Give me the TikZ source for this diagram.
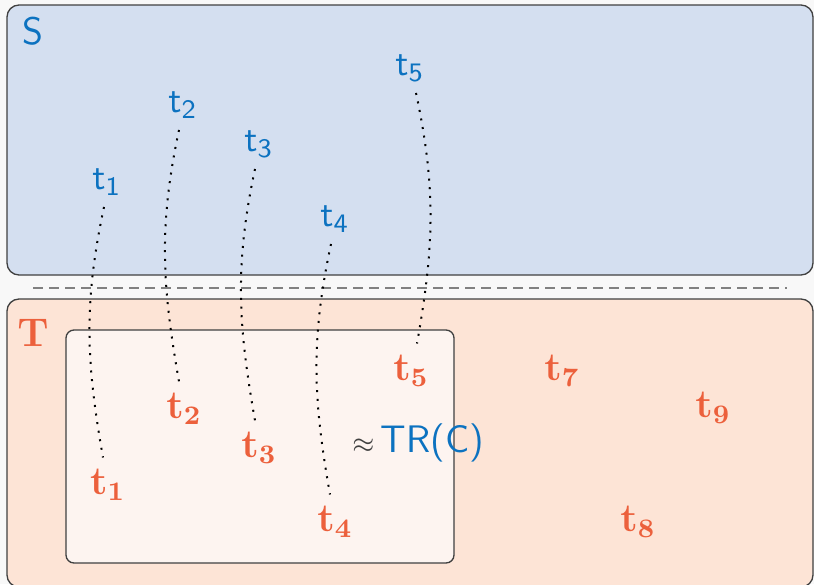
\documentclass[tikz,border=0pt]{standalone}
\usepackage{xcolor}
\definecolor{sblue}{RGB}{12,114,192}
\definecolor{torange}{RGB}{236,96,60}
\definecolor{sfill}{RGB}{212,223,240}
\definecolor{tfill}{RGB}{253,228,214}
\definecolor{cfill}{RGB}{253,244,240}
\definecolor{pagebg}{RGB}{248,248,248}
\tikzset{
	areabox/.style={shape=rectangle, draw=black!75, line width=0.4pt, rounded corners=3.6pt, inner sep=0pt},
	slabel/.style={text=sblue, font=\fontsize{11}{13}\selectfont\sffamily},
	tlabel/.style={text=torange, font=\fontsize{12}{14}\selectfont},
	link/.style={dotted, line width=0.6pt, looseness=1},
}
\begin{document}
\begin{tikzpicture}[x=0.3pt, y=-0.3pt]
	% Canvas:
	\clip (0,0) rectangle (814,584);
	\fill[pagebg] (0,0) rectangle (814,584);
	% Areas:
	\node[areabox, fill=sfill, minimum width=241.8pt, minimum height=81pt] (S) at (410,140){};
	\node[areabox, fill=tfill, minimum width=241.8pt, minimum height=86.4pt] (T) at (410,443){};
	\node[areabox, fill=cfill, rounded corners=2.4pt, minimum width=116.4pt, minimum height=69.9pt] (C) at (260,446.5){};
	\node[slabel, font=\fontsize{11.5}{13}\selectfont\sffamily] (Sname) at (33,31){S};
	\node[tlabel] (Tname) at (33,333){$\mathbf{T}$};
	% Separator:
	\coordinate (sepL) at (33,288);
	\coordinate (sepR) at (787,288);
	\draw[black!50, line width=0.6pt, dash pattern=on 3pt off 1.8pt] (sepL) -- (sepR);
	% Source points:
	\node[slabel] (s1) at (107,182){$\mathsf{t}_\mathsf{1}$};
	\node[slabel] (s2) at (183,105){$\mathsf{t}_\mathsf{2}$};
	\node[slabel] (s3) at (259,144){$\mathsf{t}_\mathsf{3}$};
	\node[slabel] (s4) at (335,219){$\mathsf{t}_\mathsf{4}$};
	\node[slabel] (s5) at (410,68){$\mathsf{t}_\mathsf{5}$};
	% Target points:
	\node[tlabel] (t1) at (108,485){$\mathbf{t_1}$};
	\node[tlabel] (t2) at (184,409){$\mathbf{t_2}$};
	\node[tlabel] (t3) at (259,448){$\mathbf{t_3}$};
	\node[tlabel] (t4) at (335,522){$\mathbf{t_4}$};
	\node[tlabel] (t5) at (411,371){$\mathbf{t_5}$};
	\node[tlabel] (t7) at (562,371){$\mathbf{t_7}$};
	\node[tlabel] (t8) at (638,522){$\mathbf{t_8}$};
	\node[tlabel] (t9) at (713,408){$\mathbf{t_9}$};
	\node[font=\fontsize{11.5}{13}\selectfont\sffamily] (approx) at (418,443){\textcolor{black!75}{\fontsize{8.5}{9}\selectfont$\approx$}\,\textcolor{sblue}{TR(C)}};
	% Matches:
	\draw[link] ([xshift=-0.9pt]s1.south) to[out=258, in=100] ([xshift=-1.5pt]t1.north);
	\draw[link] ([xshift=-1.2pt]s2.south) to[out=258, in=100] ([xshift=-1.5pt]t2.north);
	\draw[link] ([xshift=-1.2pt]s3.south) to[out=258, in=100] ([xshift=-1.2pt]t3.north);
	\draw[link] ([xshift=-1.2pt]s4.south) to[out=258, in=100] ([xshift=-1.5pt]t4.north);
	\draw[link] ([xshift=1.8pt]s5.south) to[out=282, in=80] ([xshift=1.8pt]t5.north);
\end{tikzpicture}
\end{document}
